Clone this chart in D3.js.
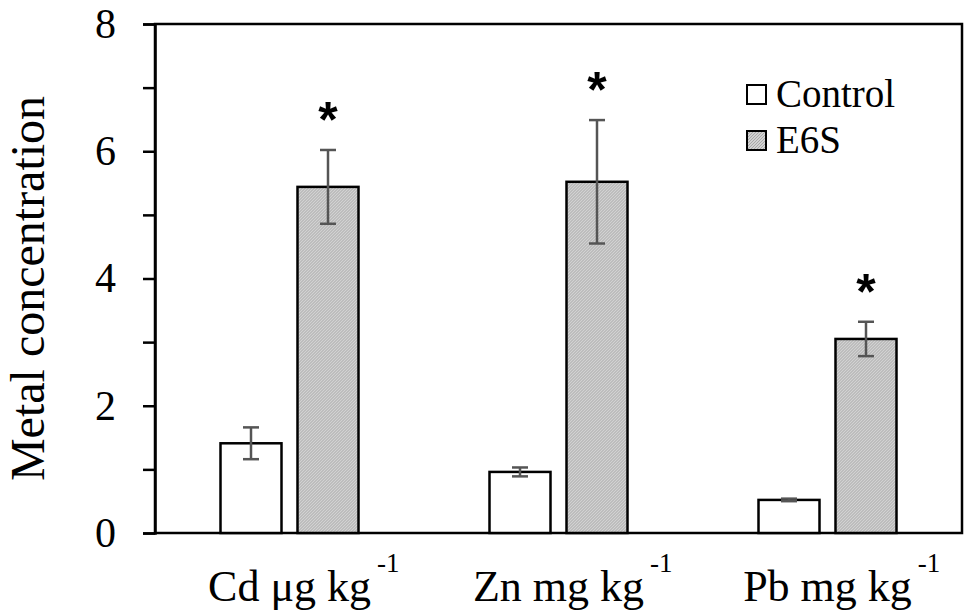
<!DOCTYPE html>
<html>
<head>
<meta charset="utf-8">
<script src="https://cdn.jsdelivr.net/npm/d3@7"></script>
<style>
  body { margin: 0; background: #fff; }
  svg { display: block; font-family: "Liberation Serif", "Times New Roman", serif; }
</style>
</head>
<body>
<svg width="970" height="615"></svg>
<script>

// DATA ––––––––––––––––––––––––––––––––––––––––––––––––––––––––––––––––

var metals = ["Cd", "Zn", "Pb"];
var unitLabels = ["Cd \u03bcg kg", "Zn mg kg", "Pb mg kg"];
var series = ["Control", "E6S"];
var controlValues = [1.41, 0.96, 0.52];
var controlErrors = [0.25, 0.07, 0.02];
var e6sValues = [5.44, 5.52, 3.05];
var e6sErrors = [0.58, 0.97, 0.27];
var significant = [true, true, true];
var yTicks = [0, 1, 2, 3, 4, 5, 6, 7, 8];
var yTickLabels = [0, 2, 4, 6, 8];


// D3 ––––––––––––––––––––––––––––––––––––––––––––––––––––––––––––––––––

var svg = d3.select("svg"),
    margin = {top: 24, right: 8, bottom: 82, left: 155},
    width = +svg.attr("width") - margin.left - margin.right,
    height = +svg.attr("height") - margin.top - margin.bottom;

var defs = svg.append("defs");
var pat = defs.append("pattern")
    .attr("id", "hatch")
    .attr("patternUnits", "userSpaceOnUse")
    .attr("width", 3).attr("height", 3);
pat.append("rect").attr("width", 3).attr("height", 3).attr("fill", "#d2d2d2");
pat.append("path").attr("d", "M0,3 L3,0").attr("stroke", "#a8a8a8").attr("stroke-width", 1);

var g = svg.append("g").attr("transform", "translate(" + margin.left + "," + margin.top + ")");

var x = d3.scaleBand().domain(metals).range([0, width]).padding(0);
var y = d3.scaleLinear().domain([0, 8]).range([height, 0]);

var barW = 61, gap = 16;

var rows = metals.map(function(m, i) {
  return {
    metal: m,
    bars: [
      {key: "Control", v: controlValues[i], e: controlErrors[i], off: -gap / 2 - barW},
      {key: "E6S", v: e6sValues[i], e: e6sErrors[i], off: gap / 2, sig: significant[i]}
    ]
  };
});

// box
g.append("rect")
    .attr("width", width).attr("height", height)
    .attr("fill", "none").attr("stroke", "#000").attr("stroke-width", 2.5);

// y axis
var yAxis = g.append("g")
    .call(d3.axisLeft(y).tickValues(yTicks).tickSize(12).tickFormat(function(d) {
      return yTickLabels.indexOf(d) >= 0 ? d : "";
    }));
yAxis.select(".domain").attr("stroke-width", 2.5);
yAxis.selectAll(".tick line").attr("stroke-width", 2.5);
yAxis.selectAll(".tick text")
    .attr("x", -39)
    .attr("font-size", 42)
    .attr("font-family", "Liberation Serif")
    .attr("fill", "#000");

var groups = g.selectAll(".grp").data(rows).enter().append("g")
    .attr("transform", function(d) { return "translate(" + (x(d.metal) + x.bandwidth() / 2) + ",0)"; });

groups.selectAll("rect.bar").data(function(d) { return d.bars; }).enter().append("rect")
    .attr("class", "bar")
    .attr("x", function(d) { return d.off; })
    .attr("y", function(d) { return y(d.v); })
    .attr("width", barW)
    .attr("height", function(d) { return height - y(d.v); })
    .attr("fill", function(d) { return d.key === "E6S" ? "url(#hatch)" : "#fff"; })
    .attr("stroke", "#000").attr("stroke-width", 2.5);

var eb = groups.selectAll("g.err").data(function(d) { return d.bars; }).enter().append("g")
    .attr("stroke", "#555").attr("stroke-width", 2.5);
eb.append("line")
    .attr("x1", function(d) { return d.off + barW / 2; })
    .attr("x2", function(d) { return d.off + barW / 2; })
    .attr("y1", function(d) { return y(d.v + d.e); })
    .attr("y2", function(d) { return y(d.v - d.e); });
eb.append("line")
    .attr("x1", function(d) { return d.off + barW / 2 - 8; })
    .attr("x2", function(d) { return d.off + barW / 2 + 8; })
    .attr("y1", function(d) { return y(d.v + d.e); })
    .attr("y2", function(d) { return y(d.v + d.e); });
eb.append("line")
    .attr("x1", function(d) { return d.off + barW / 2 - 8; })
    .attr("x2", function(d) { return d.off + barW / 2 + 8; })
    .attr("y1", function(d) { return y(d.v - d.e); })
    .attr("y2", function(d) { return y(d.v - d.e); });

groups.selectAll("text.sig").data(function(d) { return d.bars.filter(function(b) { return b.sig; }); })
    .enter().append("text")
    .attr("class", "sig")
    .attr("x", function(d) { return d.off + barW / 2; })
    .attr("y", function(d) { return y(d.v + d.e) - 13; })
    .attr("text-anchor", "middle")
    .attr("font-family", "Liberation Sans")
    .attr("font-weight", "bold")
    .attr("font-size", 50)
    .text("*");

// x labels with superscript
metals.forEach(function(m, i) {
  var cx = margin.left + x(m) + x.bandwidth() / 2;
  var t = svg.append("text")
      .attr("x", cx).attr("y", 601)
      .attr("text-anchor", "middle")
      .attr("font-size", 44)
      .text(unitLabels[i]);
  var len = t.node().getComputedTextLength();
  svg.append("text")
      .attr("x", cx + len / 2 + 6).attr("y", 572)
      .attr("font-size", 27)
      .text("-1");
});

// y label
svg.append("text")
    .attr("transform", "translate(44," + (margin.top + height / 2 + 10) + ") rotate(-90)")
    .attr("text-anchor", "middle")
    .attr("font-size", 48)
    .text("Metal concentration");

// legend
var legend = svg.append("g").attr("transform", "translate(746,84)");
series.forEach(function(s, i) {
  var row = legend.append("g").attr("transform", "translate(0," + (i * 46) + ")");
  row.append("rect")
      .attr("x", 1).attr("y", 1).attr("width", 19).attr("height", 19)
      .attr("fill", i === 0 ? "#fff" : "url(#hatch)")
      .attr("stroke", "#000").attr("stroke-width", 2);
  row.append("text")
      .attr("x", 30).attr("y", 23)
      .attr("font-size", 39)
      .text(s);
});
</script>
</body>
</html>
